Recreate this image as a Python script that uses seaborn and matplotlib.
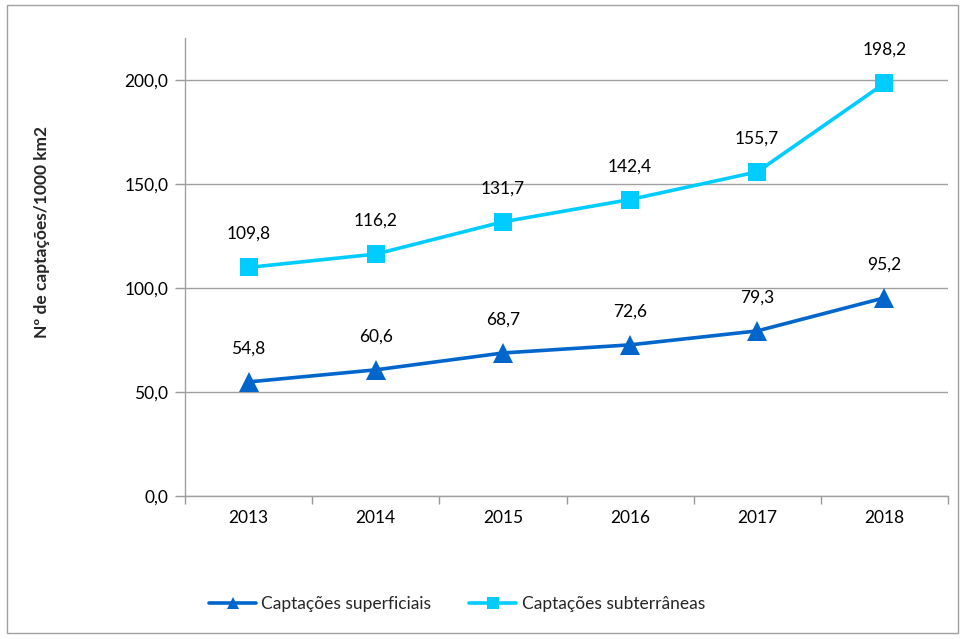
import matplotlib
matplotlib.use("Agg")
import matplotlib.pyplot as plt
import seaborn as sns
import pandas as pd
from matplotlib.ticker import FixedLocator, FuncFormatter, NullFormatter
from matplotlib.patches import Rectangle

years = ["2013", "2014", "2015", "2016", "2017", "2018"]
superficiais = [54.8, 60.6, 68.7, 72.6, 79.3, 95.2]
subterraneas = [109.8, 116.2, 131.7, 142.4, 155.7, 198.2]
yticks = [0, 50, 100, 150, 200]
label_sup = "Captações superficiais"
label_sub = "Captações subterrâneas"
ylabel = "Nº de captações/1000 km2"

sns.set_theme(style="white")
plt.rcParams['font.family'] = ['Lato', 'DejaVu Sans']

c_sup = "#0066CC"
c_sub = "#00CCFF"

fig = plt.figure(figsize=(9.65, 6.39), dpi=100)
ax = fig.add_axes([185/965, 1-496/639, (948-185)/965, (496-38)/639])

df = pd.DataFrame({"Ano": years, "sup": superficiais, "sub": subterraneas})
sns.lineplot(data=df, x="Ano", y="sup", ax=ax, color=c_sup, lw=2.6, marker="^",
             markersize=14, markeredgewidth=0, label=label_sup, sort=False)
sns.lineplot(data=df, x="Ano", y="sub", ax=ax, color=c_sub, lw=2.6, marker="s",
             markersize=13, markeredgewidth=0, label=label_sub, sort=False)

for i, v in enumerate(superficiais):
    ax.annotate(f"{v:.1f}".replace(".", ","), (i, v), xytext=(0, 24), textcoords="offset points",
                ha="center", va="center", fontsize=12.5, color="black")
for i, v in enumerate(subterraneas):
    ax.annotate(f"{v:.1f}".replace(".", ","), (i, v), xytext=(0, 24), textcoords="offset points",
                ha="center", va="center", fontsize=12.5, color="black")

ax.set_xlim(-0.5, len(years) - 0.5)
ax.set_ylim(0, 220)
ax.set_yticks(yticks)
ax.yaxis.set_major_formatter(FuncFormatter(lambda v, p: f"{v:.1f}".replace(".", ",")))
ax.set_xticks(range(len(years)))
ax.set_xticklabels(years)
ax.xaxis.set_minor_locator(FixedLocator([i - 0.5 for i in range(len(years) + 1)]))
ax.xaxis.set_minor_formatter(NullFormatter())
ax.tick_params(axis="x", which="major", length=0, labelsize=12.5, pad=10, colors="black")
ax.tick_params(axis="x", which="minor", length=6, width=1, color="#999999", direction="out", bottom=True)
ax.tick_params(axis="y", which="major", length=7, width=1, color="#999999", direction="out",
               left=True, labelsize=12.5, pad=5, labelcolor="black")
ax.grid(axis="y", color="#A0A0A0", lw=1)
ax.set_axisbelow(True)
for s in ["top", "right"]:
    ax.spines[s].set_visible(False)
for s in ["left", "bottom"]:
    ax.spines[s].set_color("#A0A0A0")
    ax.spines[s].set_linewidth(1)
ax.set_xlabel("")
ax.set_ylabel("")
fig.text(42/965, 1-232/639, ylabel, rotation=90, ha="center", va="center",
         fontsize=12.5, fontweight="bold")

leg = ax.legend(loc="center", bbox_to_anchor=(457/965, 1-604/639), bbox_transform=fig.transFigure,
                ncol=2, frameon=False, fontsize=12.5, handlelength=2.7, columnspacing=2.2,
                handletextpad=0.3, borderpad=0)
for h in leg.legend_handles:
    h.set_markersize(9)

fig.patches.append(Rectangle((7/965, 1-633/639), (958-7)/965, (633-5)/639,
                             transform=fig.transFigure, fill=False, edgecolor="#A0A0A0", lw=1))

fig.savefig("out.png", dpi=100)
